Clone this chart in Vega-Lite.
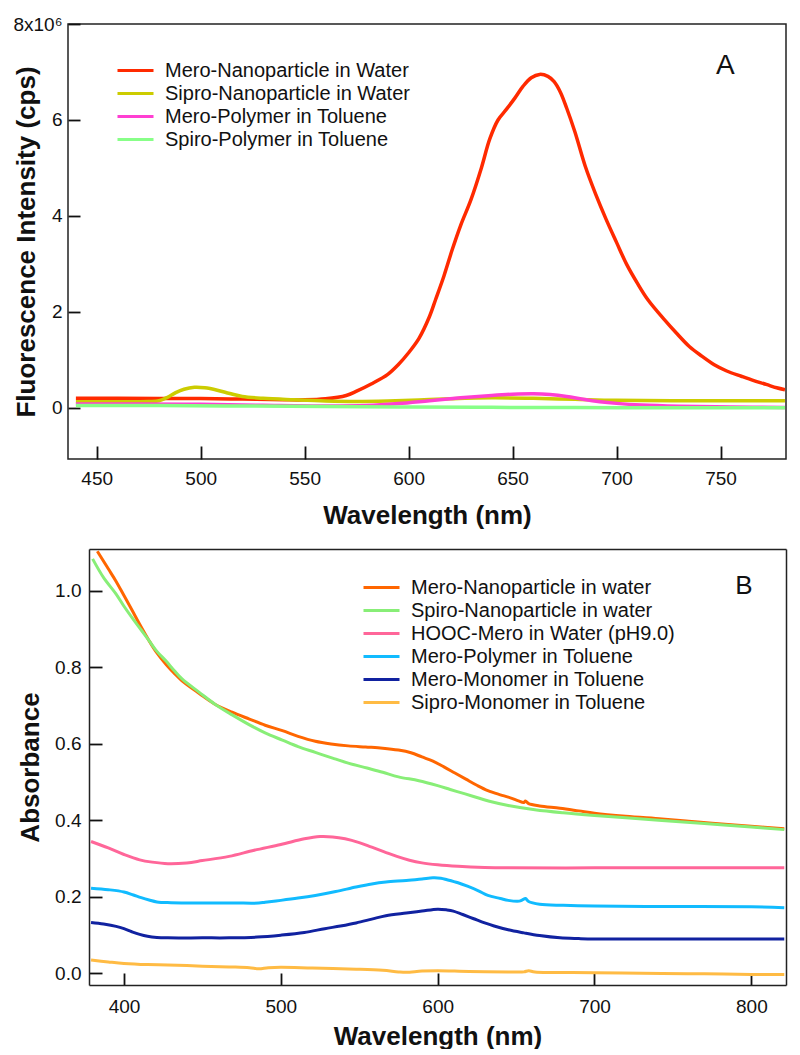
{
  "$schema": "https://vega.github.io/schema/vega-lite/v6.json",
  "padding": {"left": 12, "top": 14, "right": 5, "bottom": 0},
  "background": "white",
  "spacing": 16,
  "config": {
    "font": "Liberation Sans",
    "view": {"stroke": "#222", "strokeWidth": 1.5},
    "axis": {
      "labelFont": "Liberation Sans", "labelFontSize": 19, "labelColor": "#111",
      "titleFont": "Liberation Sans", "titleFontSize": 26, "titleFontWeight": "bold", "titleColor": "#111",
      "domainColor": "#222", "domainWidth": 1.5, "tickColor": "#111", "tickWidth": 1.8,
      "grid": false, "labelFlush": false, "labelOverlap": false
    },
    "legend": {"labelFont": "Liberation Sans", "labelColor": "#111", "labelFontSize": 20, "padding": 0, "labelLimit": 0}
  },
  "datasets": {
    "fluor": [
      {"series": "Mero-Nanoparticle in Water", "wl": 440, "cps": 200000},
      {"series": "Mero-Nanoparticle in Water", "wl": 460, "cps": 200000},
      {"series": "Mero-Nanoparticle in Water", "wl": 480, "cps": 195000},
      {"series": "Mero-Nanoparticle in Water", "wl": 500, "cps": 195000},
      {"series": "Mero-Nanoparticle in Water", "wl": 520, "cps": 185000},
      {"series": "Mero-Nanoparticle in Water", "wl": 540, "cps": 170000},
      {"series": "Mero-Nanoparticle in Water", "wl": 550, "cps": 168000},
      {"series": "Mero-Nanoparticle in Water", "wl": 560, "cps": 190000},
      {"series": "Mero-Nanoparticle in Water", "wl": 570, "cps": 260000},
      {"series": "Mero-Nanoparticle in Water", "wl": 575, "cps": 350000},
      {"series": "Mero-Nanoparticle in Water", "wl": 582, "cps": 500000},
      {"series": "Mero-Nanoparticle in Water", "wl": 590, "cps": 700000},
      {"series": "Mero-Nanoparticle in Water", "wl": 595, "cps": 900000},
      {"series": "Mero-Nanoparticle in Water", "wl": 600, "cps": 1150000},
      {"series": "Mero-Nanoparticle in Water", "wl": 605, "cps": 1450000},
      {"series": "Mero-Nanoparticle in Water", "wl": 610, "cps": 1900000},
      {"series": "Mero-Nanoparticle in Water", "wl": 613, "cps": 2260000},
      {"series": "Mero-Nanoparticle in Water", "wl": 617, "cps": 2750000},
      {"series": "Mero-Nanoparticle in Water", "wl": 621, "cps": 3300000},
      {"series": "Mero-Nanoparticle in Water", "wl": 625, "cps": 3800000},
      {"series": "Mero-Nanoparticle in Water", "wl": 630, "cps": 4340000},
      {"series": "Mero-Nanoparticle in Water", "wl": 635, "cps": 5000000},
      {"series": "Mero-Nanoparticle in Water", "wl": 639, "cps": 5600000},
      {"series": "Mero-Nanoparticle in Water", "wl": 643, "cps": 6000000},
      {"series": "Mero-Nanoparticle in Water", "wl": 647, "cps": 6220000},
      {"series": "Mero-Nanoparticle in Water", "wl": 651, "cps": 6450000},
      {"series": "Mero-Nanoparticle in Water", "wl": 655, "cps": 6700000},
      {"series": "Mero-Nanoparticle in Water", "wl": 659, "cps": 6880000},
      {"series": "Mero-Nanoparticle in Water", "wl": 663, "cps": 6950000},
      {"series": "Mero-Nanoparticle in Water", "wl": 667, "cps": 6910000},
      {"series": "Mero-Nanoparticle in Water", "wl": 670, "cps": 6800000},
      {"series": "Mero-Nanoparticle in Water", "wl": 673, "cps": 6580000},
      {"series": "Mero-Nanoparticle in Water", "wl": 676, "cps": 6250000},
      {"series": "Mero-Nanoparticle in Water", "wl": 680, "cps": 5750000},
      {"series": "Mero-Nanoparticle in Water", "wl": 685, "cps": 5030000},
      {"series": "Mero-Nanoparticle in Water", "wl": 690, "cps": 4450000},
      {"series": "Mero-Nanoparticle in Water", "wl": 695, "cps": 3930000},
      {"series": "Mero-Nanoparticle in Water", "wl": 700, "cps": 3450000},
      {"series": "Mero-Nanoparticle in Water", "wl": 705, "cps": 2980000},
      {"series": "Mero-Nanoparticle in Water", "wl": 710, "cps": 2600000},
      {"series": "Mero-Nanoparticle in Water", "wl": 715, "cps": 2260000},
      {"series": "Mero-Nanoparticle in Water", "wl": 723, "cps": 1840000},
      {"series": "Mero-Nanoparticle in Water", "wl": 729, "cps": 1550000},
      {"series": "Mero-Nanoparticle in Water", "wl": 735, "cps": 1280000},
      {"series": "Mero-Nanoparticle in Water", "wl": 741, "cps": 1080000},
      {"series": "Mero-Nanoparticle in Water", "wl": 747, "cps": 900000},
      {"series": "Mero-Nanoparticle in Water", "wl": 753, "cps": 770000},
      {"series": "Mero-Nanoparticle in Water", "wl": 760, "cps": 660000},
      {"series": "Mero-Nanoparticle in Water", "wl": 766, "cps": 570000},
      {"series": "Mero-Nanoparticle in Water", "wl": 772, "cps": 490000},
      {"series": "Mero-Nanoparticle in Water", "wl": 777, "cps": 420000},
      {"series": "Mero-Nanoparticle in Water", "wl": 781, "cps": 380000},
      {"series": "Sipro-Nanoparticle in Water", "wl": 440, "cps": 130000},
      {"series": "Sipro-Nanoparticle in Water", "wl": 460, "cps": 130000},
      {"series": "Sipro-Nanoparticle in Water", "wl": 475, "cps": 135000},
      {"series": "Sipro-Nanoparticle in Water", "wl": 480, "cps": 150000},
      {"series": "Sipro-Nanoparticle in Water", "wl": 484, "cps": 220000},
      {"series": "Sipro-Nanoparticle in Water", "wl": 488, "cps": 320000},
      {"series": "Sipro-Nanoparticle in Water", "wl": 492, "cps": 390000},
      {"series": "Sipro-Nanoparticle in Water", "wl": 497, "cps": 430000},
      {"series": "Sipro-Nanoparticle in Water", "wl": 502, "cps": 420000},
      {"series": "Sipro-Nanoparticle in Water", "wl": 508, "cps": 370000},
      {"series": "Sipro-Nanoparticle in Water", "wl": 514, "cps": 300000},
      {"series": "Sipro-Nanoparticle in Water", "wl": 520, "cps": 240000},
      {"series": "Sipro-Nanoparticle in Water", "wl": 530, "cps": 200000},
      {"series": "Sipro-Nanoparticle in Water", "wl": 545, "cps": 170000},
      {"series": "Sipro-Nanoparticle in Water", "wl": 560, "cps": 145000},
      {"series": "Sipro-Nanoparticle in Water", "wl": 575, "cps": 135000},
      {"series": "Sipro-Nanoparticle in Water", "wl": 590, "cps": 145000},
      {"series": "Sipro-Nanoparticle in Water", "wl": 605, "cps": 165000},
      {"series": "Sipro-Nanoparticle in Water", "wl": 620, "cps": 190000},
      {"series": "Sipro-Nanoparticle in Water", "wl": 640, "cps": 210000},
      {"series": "Sipro-Nanoparticle in Water", "wl": 660, "cps": 200000},
      {"series": "Sipro-Nanoparticle in Water", "wl": 680, "cps": 180000},
      {"series": "Sipro-Nanoparticle in Water", "wl": 700, "cps": 160000},
      {"series": "Sipro-Nanoparticle in Water", "wl": 740, "cps": 150000},
      {"series": "Sipro-Nanoparticle in Water", "wl": 781, "cps": 150000},
      {"series": "Mero-Polymer in Toluene", "wl": 440, "cps": 80000},
      {"series": "Mero-Polymer in Toluene", "wl": 470, "cps": 80000},
      {"series": "Mero-Polymer in Toluene", "wl": 500, "cps": 75000},
      {"series": "Mero-Polymer in Toluene", "wl": 530, "cps": 55000},
      {"series": "Mero-Polymer in Toluene", "wl": 560, "cps": 40000},
      {"series": "Mero-Polymer in Toluene", "wl": 580, "cps": 50000},
      {"series": "Mero-Polymer in Toluene", "wl": 595, "cps": 90000},
      {"series": "Mero-Polymer in Toluene", "wl": 610, "cps": 150000},
      {"series": "Mero-Polymer in Toluene", "wl": 625, "cps": 210000},
      {"series": "Mero-Polymer in Toluene", "wl": 640, "cps": 260000},
      {"series": "Mero-Polymer in Toluene", "wl": 650, "cps": 285000},
      {"series": "Mero-Polymer in Toluene", "wl": 660, "cps": 295000},
      {"series": "Mero-Polymer in Toluene", "wl": 668, "cps": 280000},
      {"series": "Mero-Polymer in Toluene", "wl": 676, "cps": 240000},
      {"series": "Mero-Polymer in Toluene", "wl": 684, "cps": 180000},
      {"series": "Mero-Polymer in Toluene", "wl": 692, "cps": 130000},
      {"series": "Mero-Polymer in Toluene", "wl": 700, "cps": 95000},
      {"series": "Mero-Polymer in Toluene", "wl": 712, "cps": 60000},
      {"series": "Mero-Polymer in Toluene", "wl": 730, "cps": 35000},
      {"series": "Mero-Polymer in Toluene", "wl": 755, "cps": 20000},
      {"series": "Mero-Polymer in Toluene", "wl": 781, "cps": 10000},
      {"series": "Spiro-Polymer in Toluene", "wl": 440, "cps": 50000},
      {"series": "Spiro-Polymer in Toluene", "wl": 480, "cps": 50000},
      {"series": "Spiro-Polymer in Toluene", "wl": 520, "cps": 40000},
      {"series": "Spiro-Polymer in Toluene", "wl": 560, "cps": 30000},
      {"series": "Spiro-Polymer in Toluene", "wl": 600, "cps": 20000},
      {"series": "Spiro-Polymer in Toluene", "wl": 640, "cps": 12000},
      {"series": "Spiro-Polymer in Toluene", "wl": 680, "cps": 8000},
      {"series": "Spiro-Polymer in Toluene", "wl": 720, "cps": 5000},
      {"series": "Spiro-Polymer in Toluene", "wl": 760, "cps": 6000},
      {"series": "Spiro-Polymer in Toluene", "wl": 781, "cps": 6000}
    ],
    "absorb": [
      {"series": "Mero-Nanoparticle in water", "wl": 383, "a": 1.104},
      {"series": "Mero-Nanoparticle in water", "wl": 390, "a": 1.058},
      {"series": "Mero-Nanoparticle in water", "wl": 395, "a": 1.025},
      {"series": "Mero-Nanoparticle in water", "wl": 400, "a": 0.988},
      {"series": "Mero-Nanoparticle in water", "wl": 405, "a": 0.951},
      {"series": "Mero-Nanoparticle in water", "wl": 410, "a": 0.913},
      {"series": "Mero-Nanoparticle in water", "wl": 416, "a": 0.870},
      {"series": "Mero-Nanoparticle in water", "wl": 421, "a": 0.838},
      {"series": "Mero-Nanoparticle in water", "wl": 427, "a": 0.807},
      {"series": "Mero-Nanoparticle in water", "wl": 432, "a": 0.785},
      {"series": "Mero-Nanoparticle in water", "wl": 437, "a": 0.765},
      {"series": "Mero-Nanoparticle in water", "wl": 448, "a": 0.732},
      {"series": "Mero-Nanoparticle in water", "wl": 458, "a": 0.704},
      {"series": "Mero-Nanoparticle in water", "wl": 469, "a": 0.683},
      {"series": "Mero-Nanoparticle in water", "wl": 480, "a": 0.665},
      {"series": "Mero-Nanoparticle in water", "wl": 490, "a": 0.649},
      {"series": "Mero-Nanoparticle in water", "wl": 501, "a": 0.635},
      {"series": "Mero-Nanoparticle in water", "wl": 511, "a": 0.620},
      {"series": "Mero-Nanoparticle in water", "wl": 522, "a": 0.607},
      {"series": "Mero-Nanoparticle in water", "wl": 532, "a": 0.600},
      {"series": "Mero-Nanoparticle in water", "wl": 543, "a": 0.595},
      {"series": "Mero-Nanoparticle in water", "wl": 554, "a": 0.592},
      {"series": "Mero-Nanoparticle in water", "wl": 565, "a": 0.589},
      {"series": "Mero-Nanoparticle in water", "wl": 575, "a": 0.584},
      {"series": "Mero-Nanoparticle in water", "wl": 583, "a": 0.577},
      {"series": "Mero-Nanoparticle in water", "wl": 590, "a": 0.566},
      {"series": "Mero-Nanoparticle in water", "wl": 597, "a": 0.555},
      {"series": "Mero-Nanoparticle in water", "wl": 604, "a": 0.540},
      {"series": "Mero-Nanoparticle in water", "wl": 611, "a": 0.524},
      {"series": "Mero-Nanoparticle in water", "wl": 618, "a": 0.508},
      {"series": "Mero-Nanoparticle in water", "wl": 625, "a": 0.492},
      {"series": "Mero-Nanoparticle in water", "wl": 632, "a": 0.478},
      {"series": "Mero-Nanoparticle in water", "wl": 640, "a": 0.467},
      {"series": "Mero-Nanoparticle in water", "wl": 645, "a": 0.461},
      {"series": "Mero-Nanoparticle in water", "wl": 651, "a": 0.452},
      {"series": "Mero-Nanoparticle in water", "wl": 655, "a": 0.447},
      {"series": "Mero-Nanoparticle in water", "wl": 656, "a": 0.451},
      {"series": "Mero-Nanoparticle in water", "wl": 658, "a": 0.444},
      {"series": "Mero-Nanoparticle in water", "wl": 665, "a": 0.438},
      {"series": "Mero-Nanoparticle in water", "wl": 678, "a": 0.432},
      {"series": "Mero-Nanoparticle in water", "wl": 690, "a": 0.425},
      {"series": "Mero-Nanoparticle in water", "wl": 700, "a": 0.419},
      {"series": "Mero-Nanoparticle in water", "wl": 720, "a": 0.411},
      {"series": "Mero-Nanoparticle in water", "wl": 743, "a": 0.404},
      {"series": "Mero-Nanoparticle in water", "wl": 760, "a": 0.398},
      {"series": "Mero-Nanoparticle in water", "wl": 775, "a": 0.393},
      {"series": "Mero-Nanoparticle in water", "wl": 800, "a": 0.385},
      {"series": "Mero-Nanoparticle in water", "wl": 821, "a": 0.378},
      {"series": "Spiro-Nanoparticle in water", "wl": 380, "a": 1.084},
      {"series": "Spiro-Nanoparticle in water", "wl": 387, "a": 1.035},
      {"series": "Spiro-Nanoparticle in water", "wl": 395, "a": 0.992},
      {"series": "Spiro-Nanoparticle in water", "wl": 400, "a": 0.960},
      {"series": "Spiro-Nanoparticle in water", "wl": 405, "a": 0.931},
      {"series": "Spiro-Nanoparticle in water", "wl": 411, "a": 0.898},
      {"series": "Spiro-Nanoparticle in water", "wl": 416, "a": 0.870},
      {"series": "Spiro-Nanoparticle in water", "wl": 421, "a": 0.842},
      {"series": "Spiro-Nanoparticle in water", "wl": 427, "a": 0.816},
      {"series": "Spiro-Nanoparticle in water", "wl": 432, "a": 0.792},
      {"series": "Spiro-Nanoparticle in water", "wl": 437, "a": 0.770},
      {"series": "Spiro-Nanoparticle in water", "wl": 448, "a": 0.735},
      {"series": "Spiro-Nanoparticle in water", "wl": 458, "a": 0.704},
      {"series": "Spiro-Nanoparticle in water", "wl": 469, "a": 0.676},
      {"series": "Spiro-Nanoparticle in water", "wl": 480, "a": 0.650},
      {"series": "Spiro-Nanoparticle in water", "wl": 490, "a": 0.629},
      {"series": "Spiro-Nanoparticle in water", "wl": 501, "a": 0.610},
      {"series": "Spiro-Nanoparticle in water", "wl": 511, "a": 0.593},
      {"series": "Spiro-Nanoparticle in water", "wl": 522, "a": 0.578},
      {"series": "Spiro-Nanoparticle in water", "wl": 533, "a": 0.563},
      {"series": "Spiro-Nanoparticle in water", "wl": 543, "a": 0.550},
      {"series": "Spiro-Nanoparticle in water", "wl": 555, "a": 0.537},
      {"series": "Spiro-Nanoparticle in water", "wl": 565, "a": 0.526},
      {"series": "Spiro-Nanoparticle in water", "wl": 575, "a": 0.514},
      {"series": "Spiro-Nanoparticle in water", "wl": 588, "a": 0.504},
      {"series": "Spiro-Nanoparticle in water", "wl": 600, "a": 0.491},
      {"series": "Spiro-Nanoparticle in water", "wl": 608, "a": 0.481},
      {"series": "Spiro-Nanoparticle in water", "wl": 617, "a": 0.470},
      {"series": "Spiro-Nanoparticle in water", "wl": 625, "a": 0.460},
      {"series": "Spiro-Nanoparticle in water", "wl": 633, "a": 0.450},
      {"series": "Spiro-Nanoparticle in water", "wl": 645, "a": 0.439},
      {"series": "Spiro-Nanoparticle in water", "wl": 662, "a": 0.428},
      {"series": "Spiro-Nanoparticle in water", "wl": 680, "a": 0.420},
      {"series": "Spiro-Nanoparticle in water", "wl": 700, "a": 0.413},
      {"series": "Spiro-Nanoparticle in water", "wl": 720, "a": 0.407},
      {"series": "Spiro-Nanoparticle in water", "wl": 743, "a": 0.400},
      {"series": "Spiro-Nanoparticle in water", "wl": 770, "a": 0.392},
      {"series": "Spiro-Nanoparticle in water", "wl": 800, "a": 0.383},
      {"series": "Spiro-Nanoparticle in water", "wl": 821, "a": 0.376},
      {"series": "HOOC-Mero in Water (pH9.0)", "wl": 379, "a": 0.345},
      {"series": "HOOC-Mero in Water (pH9.0)", "wl": 390, "a": 0.328},
      {"series": "HOOC-Mero in Water (pH9.0)", "wl": 400, "a": 0.311},
      {"series": "HOOC-Mero in Water (pH9.0)", "wl": 410, "a": 0.297},
      {"series": "HOOC-Mero in Water (pH9.0)", "wl": 418, "a": 0.291},
      {"series": "HOOC-Mero in Water (pH9.0)", "wl": 428, "a": 0.287},
      {"series": "HOOC-Mero in Water (pH9.0)", "wl": 440, "a": 0.289},
      {"series": "HOOC-Mero in Water (pH9.0)", "wl": 450, "a": 0.295},
      {"series": "HOOC-Mero in Water (pH9.0)", "wl": 467, "a": 0.306},
      {"series": "HOOC-Mero in Water (pH9.0)", "wl": 483, "a": 0.322},
      {"series": "HOOC-Mero in Water (pH9.0)", "wl": 500, "a": 0.337},
      {"series": "HOOC-Mero in Water (pH9.0)", "wl": 515, "a": 0.352},
      {"series": "HOOC-Mero in Water (pH9.0)", "wl": 525, "a": 0.358},
      {"series": "HOOC-Mero in Water (pH9.0)", "wl": 533, "a": 0.357},
      {"series": "HOOC-Mero in Water (pH9.0)", "wl": 541, "a": 0.352},
      {"series": "HOOC-Mero in Water (pH9.0)", "wl": 550, "a": 0.342},
      {"series": "HOOC-Mero in Water (pH9.0)", "wl": 558, "a": 0.330},
      {"series": "HOOC-Mero in Water (pH9.0)", "wl": 566, "a": 0.318},
      {"series": "HOOC-Mero in Water (pH9.0)", "wl": 574, "a": 0.306},
      {"series": "HOOC-Mero in Water (pH9.0)", "wl": 582, "a": 0.296},
      {"series": "HOOC-Mero in Water (pH9.0)", "wl": 590, "a": 0.289},
      {"series": "HOOC-Mero in Water (pH9.0)", "wl": 600, "a": 0.284},
      {"series": "HOOC-Mero in Water (pH9.0)", "wl": 613, "a": 0.280},
      {"series": "HOOC-Mero in Water (pH9.0)", "wl": 630, "a": 0.277},
      {"series": "HOOC-Mero in Water (pH9.0)", "wl": 645, "a": 0.276},
      {"series": "HOOC-Mero in Water (pH9.0)", "wl": 700, "a": 0.276},
      {"series": "HOOC-Mero in Water (pH9.0)", "wl": 760, "a": 0.276},
      {"series": "HOOC-Mero in Water (pH9.0)", "wl": 821, "a": 0.276},
      {"series": "Mero-Polymer in Toluene", "wl": 379, "a": 0.223},
      {"series": "Mero-Polymer in Toluene", "wl": 390, "a": 0.219},
      {"series": "Mero-Polymer in Toluene", "wl": 400, "a": 0.213},
      {"series": "Mero-Polymer in Toluene", "wl": 406, "a": 0.205},
      {"series": "Mero-Polymer in Toluene", "wl": 411, "a": 0.198},
      {"series": "Mero-Polymer in Toluene", "wl": 416, "a": 0.192},
      {"series": "Mero-Polymer in Toluene", "wl": 421, "a": 0.187},
      {"series": "Mero-Polymer in Toluene", "wl": 430, "a": 0.185},
      {"series": "Mero-Polymer in Toluene", "wl": 450, "a": 0.184},
      {"series": "Mero-Polymer in Toluene", "wl": 470, "a": 0.184},
      {"series": "Mero-Polymer in Toluene", "wl": 486, "a": 0.184},
      {"series": "Mero-Polymer in Toluene", "wl": 490, "a": 0.186},
      {"series": "Mero-Polymer in Toluene", "wl": 500, "a": 0.191},
      {"series": "Mero-Polymer in Toluene", "wl": 511, "a": 0.197},
      {"series": "Mero-Polymer in Toluene", "wl": 522, "a": 0.204},
      {"series": "Mero-Polymer in Toluene", "wl": 535, "a": 0.214},
      {"series": "Mero-Polymer in Toluene", "wl": 548, "a": 0.226},
      {"series": "Mero-Polymer in Toluene", "wl": 558, "a": 0.234},
      {"series": "Mero-Polymer in Toluene", "wl": 567, "a": 0.239},
      {"series": "Mero-Polymer in Toluene", "wl": 580, "a": 0.243},
      {"series": "Mero-Polymer in Toluene", "wl": 590, "a": 0.247},
      {"series": "Mero-Polymer in Toluene", "wl": 597, "a": 0.250},
      {"series": "Mero-Polymer in Toluene", "wl": 602, "a": 0.249},
      {"series": "Mero-Polymer in Toluene", "wl": 606, "a": 0.245},
      {"series": "Mero-Polymer in Toluene", "wl": 613, "a": 0.237},
      {"series": "Mero-Polymer in Toluene", "wl": 619, "a": 0.228},
      {"series": "Mero-Polymer in Toluene", "wl": 626, "a": 0.216},
      {"series": "Mero-Polymer in Toluene", "wl": 632, "a": 0.204},
      {"series": "Mero-Polymer in Toluene", "wl": 640, "a": 0.196},
      {"series": "Mero-Polymer in Toluene", "wl": 645, "a": 0.191},
      {"series": "Mero-Polymer in Toluene", "wl": 652, "a": 0.189},
      {"series": "Mero-Polymer in Toluene", "wl": 654, "a": 0.192},
      {"series": "Mero-Polymer in Toluene", "wl": 656, "a": 0.196},
      {"series": "Mero-Polymer in Toluene", "wl": 658, "a": 0.188},
      {"series": "Mero-Polymer in Toluene", "wl": 665, "a": 0.181},
      {"series": "Mero-Polymer in Toluene", "wl": 680, "a": 0.178},
      {"series": "Mero-Polymer in Toluene", "wl": 700, "a": 0.176},
      {"series": "Mero-Polymer in Toluene", "wl": 750, "a": 0.175},
      {"series": "Mero-Polymer in Toluene", "wl": 800, "a": 0.174},
      {"series": "Mero-Polymer in Toluene", "wl": 821, "a": 0.172},
      {"series": "Mero-Monomer in Toluene", "wl": 379, "a": 0.133},
      {"series": "Mero-Monomer in Toluene", "wl": 387, "a": 0.129},
      {"series": "Mero-Monomer in Toluene", "wl": 395, "a": 0.123},
      {"series": "Mero-Monomer in Toluene", "wl": 400, "a": 0.117},
      {"series": "Mero-Monomer in Toluene", "wl": 405, "a": 0.109},
      {"series": "Mero-Monomer in Toluene", "wl": 410, "a": 0.102},
      {"series": "Mero-Monomer in Toluene", "wl": 415, "a": 0.097},
      {"series": "Mero-Monomer in Toluene", "wl": 421, "a": 0.094},
      {"series": "Mero-Monomer in Toluene", "wl": 428, "a": 0.093},
      {"series": "Mero-Monomer in Toluene", "wl": 450, "a": 0.093},
      {"series": "Mero-Monomer in Toluene", "wl": 467, "a": 0.093},
      {"series": "Mero-Monomer in Toluene", "wl": 485, "a": 0.095},
      {"series": "Mero-Monomer in Toluene", "wl": 500, "a": 0.100},
      {"series": "Mero-Monomer in Toluene", "wl": 515, "a": 0.107},
      {"series": "Mero-Monomer in Toluene", "wl": 528, "a": 0.117},
      {"series": "Mero-Monomer in Toluene", "wl": 538, "a": 0.124},
      {"series": "Mero-Monomer in Toluene", "wl": 548, "a": 0.132},
      {"series": "Mero-Monomer in Toluene", "wl": 558, "a": 0.142},
      {"series": "Mero-Monomer in Toluene", "wl": 567, "a": 0.151},
      {"series": "Mero-Monomer in Toluene", "wl": 580, "a": 0.158},
      {"series": "Mero-Monomer in Toluene", "wl": 590, "a": 0.163},
      {"series": "Mero-Monomer in Toluene", "wl": 600, "a": 0.168},
      {"series": "Mero-Monomer in Toluene", "wl": 606, "a": 0.166},
      {"series": "Mero-Monomer in Toluene", "wl": 610, "a": 0.163},
      {"series": "Mero-Monomer in Toluene", "wl": 616, "a": 0.154},
      {"series": "Mero-Monomer in Toluene", "wl": 623, "a": 0.143},
      {"series": "Mero-Monomer in Toluene", "wl": 630, "a": 0.132},
      {"series": "Mero-Monomer in Toluene", "wl": 636, "a": 0.124},
      {"series": "Mero-Monomer in Toluene", "wl": 645, "a": 0.114},
      {"series": "Mero-Monomer in Toluene", "wl": 655, "a": 0.106},
      {"series": "Mero-Monomer in Toluene", "wl": 665, "a": 0.099},
      {"series": "Mero-Monomer in Toluene", "wl": 678, "a": 0.093},
      {"series": "Mero-Monomer in Toluene", "wl": 690, "a": 0.091},
      {"series": "Mero-Monomer in Toluene", "wl": 700, "a": 0.090},
      {"series": "Mero-Monomer in Toluene", "wl": 760, "a": 0.090},
      {"series": "Mero-Monomer in Toluene", "wl": 821, "a": 0.090},
      {"series": "Sipro-Monomer in Toluene", "wl": 379, "a": 0.035},
      {"series": "Sipro-Monomer in Toluene", "wl": 390, "a": 0.030},
      {"series": "Sipro-Monomer in Toluene", "wl": 400, "a": 0.026},
      {"series": "Sipro-Monomer in Toluene", "wl": 415, "a": 0.023},
      {"series": "Sipro-Monomer in Toluene", "wl": 428, "a": 0.022},
      {"series": "Sipro-Monomer in Toluene", "wl": 450, "a": 0.019},
      {"series": "Sipro-Monomer in Toluene", "wl": 467, "a": 0.017},
      {"series": "Sipro-Monomer in Toluene", "wl": 480, "a": 0.015},
      {"series": "Sipro-Monomer in Toluene", "wl": 486, "a": 0.012},
      {"series": "Sipro-Monomer in Toluene", "wl": 492, "a": 0.015},
      {"series": "Sipro-Monomer in Toluene", "wl": 500, "a": 0.016},
      {"series": "Sipro-Monomer in Toluene", "wl": 520, "a": 0.014},
      {"series": "Sipro-Monomer in Toluene", "wl": 548, "a": 0.011},
      {"series": "Sipro-Monomer in Toluene", "wl": 565, "a": 0.008},
      {"series": "Sipro-Monomer in Toluene", "wl": 575, "a": 0.004},
      {"series": "Sipro-Monomer in Toluene", "wl": 580, "a": 0.003},
      {"series": "Sipro-Monomer in Toluene", "wl": 590, "a": 0.006},
      {"series": "Sipro-Monomer in Toluene", "wl": 600, "a": 0.007},
      {"series": "Sipro-Monomer in Toluene", "wl": 620, "a": 0.005},
      {"series": "Sipro-Monomer in Toluene", "wl": 645, "a": 0.004},
      {"series": "Sipro-Monomer in Toluene", "wl": 655, "a": 0.004},
      {"series": "Sipro-Monomer in Toluene", "wl": 658, "a": 0.007},
      {"series": "Sipro-Monomer in Toluene", "wl": 662, "a": 0.004},
      {"series": "Sipro-Monomer in Toluene", "wl": 700, "a": 0.002},
      {"series": "Sipro-Monomer in Toluene", "wl": 743, "a": 0.000},
      {"series": "Sipro-Monomer in Toluene", "wl": 770, "a": -0.001},
      {"series": "Sipro-Monomer in Toluene", "wl": 800, "a": -0.003},
      {"series": "Sipro-Monomer in Toluene", "wl": 821, "a": -0.003}
    ]
  },
  "resolve": {"scale": {"color": "independent"}},
  "vconcat": [
    {
      "width": 718,
      "height": 435,
      "layer": [
        {
          "data": {"name": "fluor"},
          "mark": {"type": "line", "strokeWidth": 3.5, "interpolate": "catmull-rom"},
          "encoding": {
            "x": {
              "field": "wl", "type": "quantitative",
              "scale": {"domain": [436.2, 781.5], "nice": false, "zero": false},
              "axis": {"title": "Wavelength (nm)", "values": [450, 500, 550, 600, 650, 700, 750], "domain": false, "ticks": true, "tickSize": 13, "offset": -13, "labelPadding": 10, "titleY": 77, "titleBaseline": "alphabetic"}
            },
            "y": {
              "field": "cps", "type": "quantitative",
              "scale": {"domain": [-1064000, 8000000], "nice": false, "zero": false},
              "axis": {
                "title": "Fluorescence Intensity (cps)",
                "values": [0, 2000000, 4000000, 6000000, 8000000],
                "labelExpr": "datum.value == 8000000 ? '8x10⁶' : format(datum.value / 1000000, 'd')",
                "domain": false, "ticks": true, "tickSize": 12, "offset": -12, "labelPadding": 6,
                "titleX": -45.5, "titleY": 217.5, "titleBaseline": "alphabetic", "titleAngle": -90, "titleAlign": "center"
              }
            },
            "color": {
              "field": "series", "type": "nominal",
              "scale": {
                "domain": ["Mero-Nanoparticle in Water", "Sipro-Nanoparticle in Water", "Mero-Polymer in Toluene", "Spiro-Polymer in Toluene"],
                "range": ["#ff2a00", "#cccc00", "#ff3fd2", "#88ff88"]
              },
              "legend": {
                "title": null, "orient": "none", "legendX": 57, "legendY": 36,
                "symbolType": "M-2,0H2", "symbolSize": 324, "symbolStrokeWidth": 3,
                "labelFontSize": 20, "labelOffset": 19, "rowPadding": 2, "labelLimit": 0
              }
            }
          }
        },
        {
          "data": {"values": [{"panel": "A", "wl": 752.3, "cps": 7120000}]},
          "mark": {"type": "text", "fontSize": 28, "font": "Liberation Sans", "align": "center", "baseline": "middle", "color": "#111"},
          "encoding": {
            "x": {"field": "wl", "type": "quantitative"},
            "y": {"field": "cps", "type": "quantitative"},
            "text": {"field": "panel"}
          }
        }
      ]
    },
    {
      "width": 718,
      "height": 436,
      "view": {"stroke": null},
      "resolve": {"axis": {"x": "independent", "y": "independent"}},
      "layer": [
        {
          "data": {"name": "absorb"},
          "mark": {"type": "line", "strokeWidth": 3, "interpolate": "catmull-rom"},
          "encoding": {
            "x": {
              "field": "wl", "type": "quantitative",
              "scale": {"domain": [377.7, 822.1], "range": [21, 718], "nice": false, "zero": false},
              "axis": {"title": "Wavelength (nm)", "values": [400, 500, 600, 700, 800], "domain": false, "ticks": true, "tickSize": 12, "offset": -12, "labelPadding": 12.5, "titleY": 71, "titleBaseline": "alphabetic"}
            },
            "y": {
              "field": "a", "type": "quantitative",
              "scale": {"domain": [-0.0303, 1.1098], "nice": false, "zero": false},
              "axis": {
                "title": "Absorbance", "values": [0, 0.2, 0.4, 0.6, 0.8, 1.0], "format": ".1f",
                "domain": false, "ticks": true, "tickSize": 13, "labelPadding": 8, "offset": -34,
                "titleX": -63.5, "titleY": 218, "titleBaseline": "alphabetic", "titleAngle": -90, "titleAlign": "center"
              }
            },
            "color": {
              "field": "series", "type": "nominal",
              "scale": {
                "domain": ["Mero-Nanoparticle in water", "Spiro-Nanoparticle in water", "HOOC-Mero in Water (pH9.0)", "Mero-Polymer in Toluene", "Mero-Monomer in Toluene", "Sipro-Monomer in Toluene"],
                "range": ["#ff6600", "#88ee77", "#ff6699", "#11bbff", "#1122a0", "#ffbb44"]
              },
              "legend": {
                "title": null, "orient": "none", "legendX": 303, "legendY": 28,
                "symbolType": "M-2,0H2", "symbolSize": 324, "symbolStrokeWidth": 3,
                "labelFontSize": 20, "labelOffset": 19, "rowPadding": 2, "labelLimit": 0
              }
            }
          }
        },
        {
          "data": {"name": "absorb"},
          "mark": {"type": "line", "opacity": 0},
          "encoding": {
            "x": {
              "field": "wl", "type": "quantitative",
              "scale": {"domain": [377.7, 822.1], "range": [21, 718], "nice": false, "zero": false},
              "axis": {"orient": "top", "title": null, "labels": false, "ticks": false}
            },
            "y": {
              "field": "a", "type": "quantitative",
              "scale": {"domain": [-0.0303, 1.1098], "nice": false, "zero": false},
              "axis": {"orient": "right", "title": null, "labels": false, "ticks": false}
            },
            "detail": {"field": "series"}
          }
        },
        {
          "data": {"name": "absorb"},
          "mark": {"type": "line", "opacity": 0},
          "encoding": {
            "x": {
              "field": "wl", "type": "quantitative",
              "scale": {"domain": [377.7, 822.1], "range": [21, 718], "nice": false, "zero": false},
              "axis": {"orient": "bottom", "title": null, "labels": false, "ticks": false}
            },
            "y": {
              "field": "a", "type": "quantitative",
              "scale": {"domain": [-0.0303, 1.1098], "nice": false, "zero": false},
              "axis": {"orient": "left", "offset": -21, "title": null, "labels": false, "ticks": false}
            },
            "detail": {"field": "series"}
          }
        },
        {
          "data": {"values": [{"panel": "B", "wl": 795.3, "a": 1.014}]},
          "mark": {"type": "text", "fontSize": 26, "font": "Liberation Sans", "align": "center", "baseline": "middle", "color": "#111"},
          "encoding": {
            "x": {"field": "wl", "type": "quantitative", "axis": null},
            "y": {"field": "a", "type": "quantitative", "axis": null},
            "text": {"field": "panel"}
          }
        }
      ]
    }
  ]
}
